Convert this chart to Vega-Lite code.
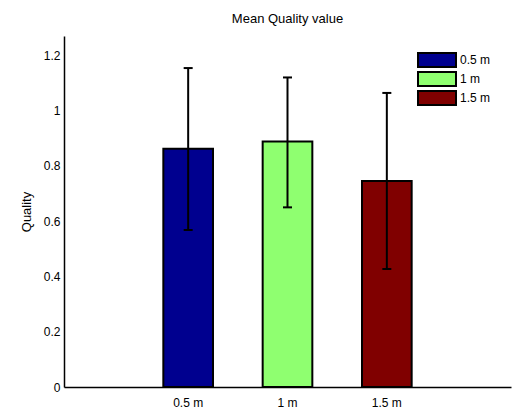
{
  "$schema": "https://vega.github.io/schema/vega-lite/v6.json",
  "width": 447,
  "height": 351,
  "autosize": {"type": "none"},
  "padding": {"left": 64, "top": 36, "right": 2, "bottom": 27},
  "background": "white",
  "title": {"text": "Mean Quality value", "fontSize": 13, "fontWeight": "normal", "font": "Liberation Sans", "color": "black", "offset": 10},
  "config": {"view": {"stroke": null}, "font": "Liberation Sans"},
  "data": {"values": [
    {"dist": "0.5 m", "mean": 0.862, "lo": 0.568, "hi": 1.154},
    {"dist": "1 m", "mean": 0.888, "lo": 0.650, "hi": 1.120},
    {"dist": "1.5 m", "mean": 0.745, "lo": 0.427, "hi": 1.064}
  ]},
  "encoding": {
    "x": {"field": "dist", "type": "nominal", "sort": ["0.5 m", "1 m", "1.5 m"],
      "scale": {"paddingInner": 0.5, "paddingOuter": 1},
      "axis": {"title": null, "labelAngle": 0, "ticks": false, "tickSize": 0, "labelPadding": 10, "labelFontSize": 12, "labelColor": "black", "domainColor": "black", "domainWidth": 1.5}}
  },
  "layer": [
    {
      "mark": {"type": "bar", "stroke": "black", "strokeWidth": 2, "opacity": 1},
      "encoding": {
        "y": {"field": "mean", "type": "quantitative", "title": "Quality",
          "scale": {"domain": [0, 1.27], "nice": false, "zero": true},
          "axis": {"values": [0, 0.2, 0.4, 0.6, 0.8, 1, 1.2], "format": ".2~f", "grid": false, "ticks": false, "tickSize": 0, "labelPadding": 4, "labelFontSize": 12, "labelColor": "black", "domainColor": "black", "domainWidth": 1.5, "titleFontSize": 13, "titleFontWeight": "normal", "titleColor": "black", "titlePadding": 10}},
        "color": {"field": "dist", "type": "nominal", "sort": ["0.5 m", "1 m", "1.5 m"],
          "scale": {"domain": ["0.5 m", "1 m", "1.5 m"], "range": ["#00008F", "#8FFF70", "#800000"]},
          "legend": {"title": null, "orient": "none", "legendX": 367, "legendY": 18, "padding": 0,
            "symbolType": "M-9.5,-3.5L9.5,-3.5L9.5,3.5L-9.5,3.5Z", "symbolSize": 16,
            "symbolStrokeColor": "black", "symbolStrokeWidth": 2, "symbolOpacity": 1,
            "labelFontSize": 12, "labelColor": "black", "labelOffset": 17, "rowPadding": -3}}
      }
    },
    {
      "mark": {"type": "rule", "color": "black", "strokeWidth": 2},
      "encoding": {
        "y": {"field": "lo", "type": "quantitative", "title": "Quality"},
        "y2": {"field": "hi"}
      }
    },
    {
      "mark": {"type": "tick", "color": "black", "size": 9, "thickness": 2, "opacity": 1},
      "encoding": {"y": {"field": "hi", "type": "quantitative", "title": "Quality"}}
    },
    {
      "mark": {"type": "tick", "color": "black", "size": 9, "thickness": 2, "opacity": 1},
      "encoding": {"y": {"field": "lo", "type": "quantitative", "title": "Quality"}}
    }
  ]
}
